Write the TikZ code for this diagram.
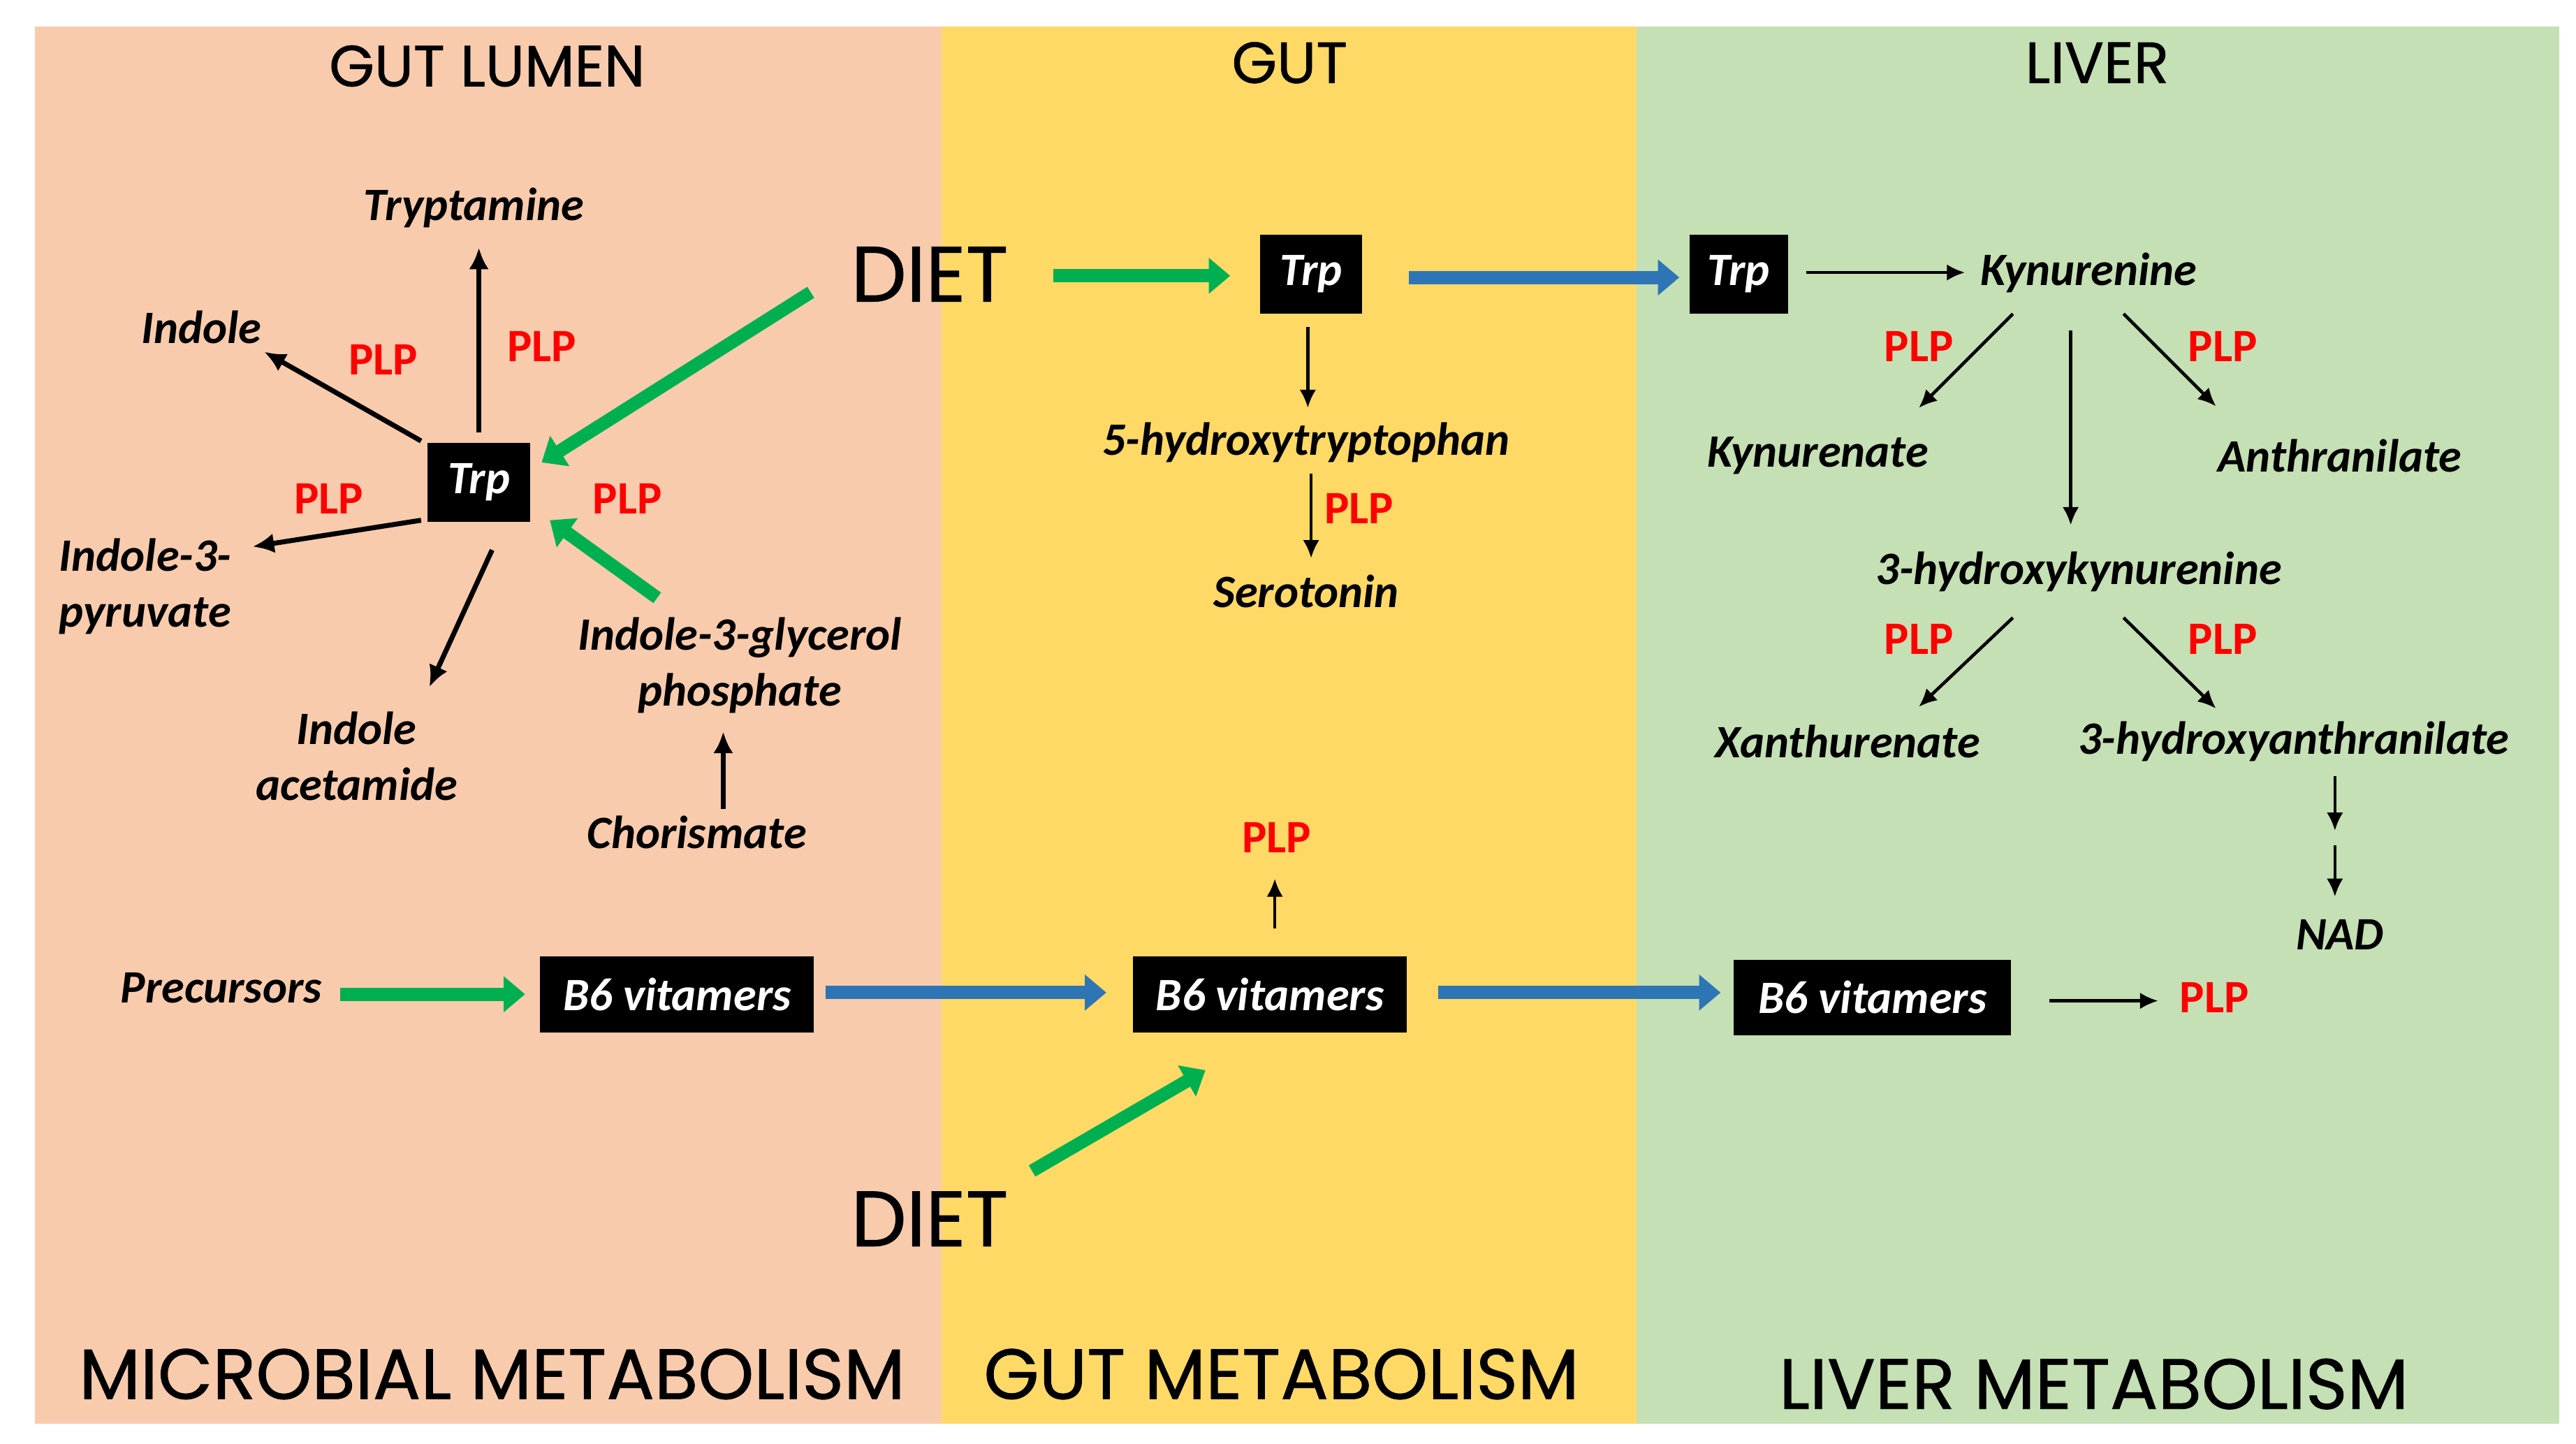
\documentclass[tikz,border=0pt]{standalone}
\usepackage{fontspec}
\setmainfont{Carlito}
\newfontfamily\headfont{Poppins}[FakeBold=0.8]
\usetikzlibrary{arrows.meta}
\definecolor{lumenbg}{HTML}{F8CBAD}
\definecolor{gutbg}{HTML}{FFD966}
\definecolor{liverbg}{HTML}{C5E0B4}
\definecolor{dietgreen}{HTML}{00B050}
\definecolor{flowblue}{HTML}{2E75B6}
\definecolor{plpred}{HTML}{FF0000}
\tikzset{
  met/.style={font=\fontsize{16}{19.3}\selectfont\bfseries\itshape, inner sep=1pt, align=center},
  pool/.style={fill=black, text=white, font=\fontsize{16}{19}\selectfont\bfseries\itshape, inner sep=0pt},
  trpbox/.style={pool, minimum width=1.24cm, minimum height=0.96cm},
  b6box/.style={pool, minimum width=3.32cm, minimum height=0.92cm},
  plp/.style={text=plpred, font=\fontsize{16}{19}\selectfont\bfseries, inner sep=1pt},
  region/.style={font=\headfont\fontsize{20}{22}\selectfont},
  metabolism/.style={font=\headfont\fontsize{24.5}{27}\selectfont},
  source/.style={font=\headfont\fontsize{27}{29}\selectfont},
  conv/.style={-{Latex[length=0.22cm,width=0.2cm]}, line width=1.1pt},
  microconv/.style={-{Latex[length=0.26cm,width=0.24cm]}, line width=1.7pt},
  intake/.style={dietgreen, line width=4.5pt, -{Triangle[length=0.26cm,width=0.42cm]}},
  transport/.style={flowblue, line width=4.5pt, -{Triangle[length=0.26cm,width=0.42cm]}}
}
\begin{document}
\begin{tikzpicture}[x=0.02cm, y=-0.02cm]
\useasboundingbox (0,0) rectangle (1560,874);
\fill[lumenbg] (21,16) rectangle (570,862);
\fill[gutbg] (570,16) rectangle (991,862);
\fill[liverbg] (991,16) rectangle (1550,862);

\node[region] (lumen) at (295,40) {GUT LUMEN};
\node[region] (gut) at (781,38) {GUT};
\node[region] (liver) at (1270,38) {LIVER};
\node[metabolism] (micromet) at (298,832) {MICROBIAL METABOLISM};
\node[metabolism] (gutmet) at (776,832) {GUT METABOLISM};
\node[metabolism] (livermet) at (1268,838) {LIVER METABOLISM};

\node[trpbox] (trpA) at (290,292) {Trp};
\node[met] (trypt) at (287,126) {Tryptamine};
\node[met] (indole) at (122,198) {Indole};
\node[met, align=left] (ipyr) at (88,355) {Indole-3-\\pyruvate};
\node[met] (iacet) at (216,458) {Indole\\acetamide};
\node[met] (igp) at (448,403) {Indole-3-glycerol\\phosphate};
\node[met] (chor) at (422,504) {Chorismate};
\node[source] (dietA) at (563,166) {DIET};
\node[plp] (plpA) at (232,218) {PLP};
\node[plp] (plpB) at (328,210) {PLP};
\node[plp] (plpC) at (199,302) {PLP};
\node[plp] (plpD) at (380,302) {PLP};

\node[trpbox] (trpB) at (794,166) {Trp};
\node[met] (htp) at (791,268) {5-hydroxytryptophan};
\node[met] (sero) at (791,358) {Serotonin};
\node[plp] (plpE) at (823,308) {PLP};

\node[trpbox, minimum width=1.2cm] (trpC) at (1053,166) {Trp};
\node[met] (kyn) at (1265,165) {Kynurenine};
\node[met] (kynate) at (1101,276) {Kynurenate};
\node[met] (anth) at (1417,276) {Anthranilate};
\node[met] (hkyn) at (1259,346) {3-hydroxykynurenine};
\node[met] (xan) at (1119,449) {Xanthurenate};
\node[met] (haa) at (1389,449) {3-hydroxyanthranilate};
\node[met] (nad) at (1417,566) {NAD};
\coordinate (nadstep) at (1414,508);
\node[plp] (plpF) at (1162,210) {PLP};
\node[plp] (plpG) at (1346,210) {PLP};
\node[plp] (plpH) at (1162,387) {PLP};
\node[plp] (plpI) at (1346,387) {PLP};

\node[met] (prec) at (134,598) {Precursors};
\node[b6box] (b6A) at (410,602) {B6 vitamers};
\node[b6box] (b6B) at (769,602) {B6 vitamers};
\node[b6box, minimum width=3.36cm] (b6C) at (1134,604) {B6 vitamers};
\node[plp] (plpgut) at (773,507) {PLP};
\node[plp] (plpliver) at (1341,604) {PLP};
\node[source] (dietB) at (563,738) {DIET};

\draw[microconv] ([shift={(0,-30)}]trpA.center) -- ([shift={(3,24)}]trypt.center);
\draw[microconv] ([shift={(-35,-25)}]trpA.center) -- ([shift={(38,15)}]indole.center);
\draw[microconv] ([shift={(-35,23)}]trpA.center) -- ([shift={(65,-24)}]ipyr.center);
\draw[microconv] ([shift={(8,41)}]trpA.center) -- ([shift={(44,-42)}]iacet.center);
\draw[microconv] ([shift={(16,-14)}]chor.center) -- ([shift={(-10,40)}]igp.center);
\draw[intake] ([shift={(-50,-41)}]igp.center) -- ([shift={(43,23)}]trpA.center);
\draw[intake] ([shift={(-72,11)}]dietA.center) -- ([shift={(38,-12)}]trpA.center);

\draw[intake] ([shift={(75,1)}]dietA.center) -- ([shift={(-49,1)}]trpB.center);
\draw[conv] ([shift={(-2,32)}]trpB.center) -- ([shift={(1,-21)}]htp.center);
\draw[conv] ([shift={(3,19)}]htp.center) -- ([shift={(3,-20)}]sero.center);
\draw[transport] ([shift={(59,2)}]trpB.center) -- ([shift={(-36,2)}]trpC.center);

\draw[conv] ([shift={(41,-1)}]trpC.center) -- ([shift={(-75,0)}]kyn.center);
\draw[conv] ([shift={(-46,25)}]kyn.center) -- ([shift={(61,-29)}]kynate.center);
\draw[conv] ([shift={(-11,35)}]kyn.center) -- ([shift={(-5,-28)}]hkyn.center);
\draw[conv] ([shift={(21,25)}]kyn.center) -- ([shift={(-75,-30)}]anth.center);
\draw[conv] ([shift={(-40,28)}]hkyn.center) -- ([shift={(43,-21)}]xan.center);
\draw[conv] ([shift={(27,28)}]hkyn.center) -- ([shift={(-47,-20)}]haa.center);
\draw[conv] ([shift={(25,21)}]haa.center) -- ([shift={(0,-5)}]nadstep);
\draw[conv] ([shift={(0,4)}]nadstep) -- ([shift={(-3,-23)}]nad.center);

\draw[intake] ([shift={(72,4)}]prec.center) -- ([shift={(-92,0)}]b6A.center);
\draw[transport] ([shift={(90,-1)}]b6A.center) -- ([shift={(-99,-1)}]b6B.center);
\draw[transport] ([shift={(102,-1)}]b6B.center) -- ([shift={(-92,-3)}]b6C.center);
\draw[conv] ([shift={(107,2)}]b6C.center) -- ([shift={(-34,2)}]plpliver.center);
\draw[conv] ([shift={(3,-40)}]b6B.center) -- ([shift={(-1,25)}]plpgut.center);
\draw[intake] ([shift={(62,-29)}]dietB.center) -- ([shift={(-39,46)}]b6B.center);
\end{tikzpicture}
\end{document}
